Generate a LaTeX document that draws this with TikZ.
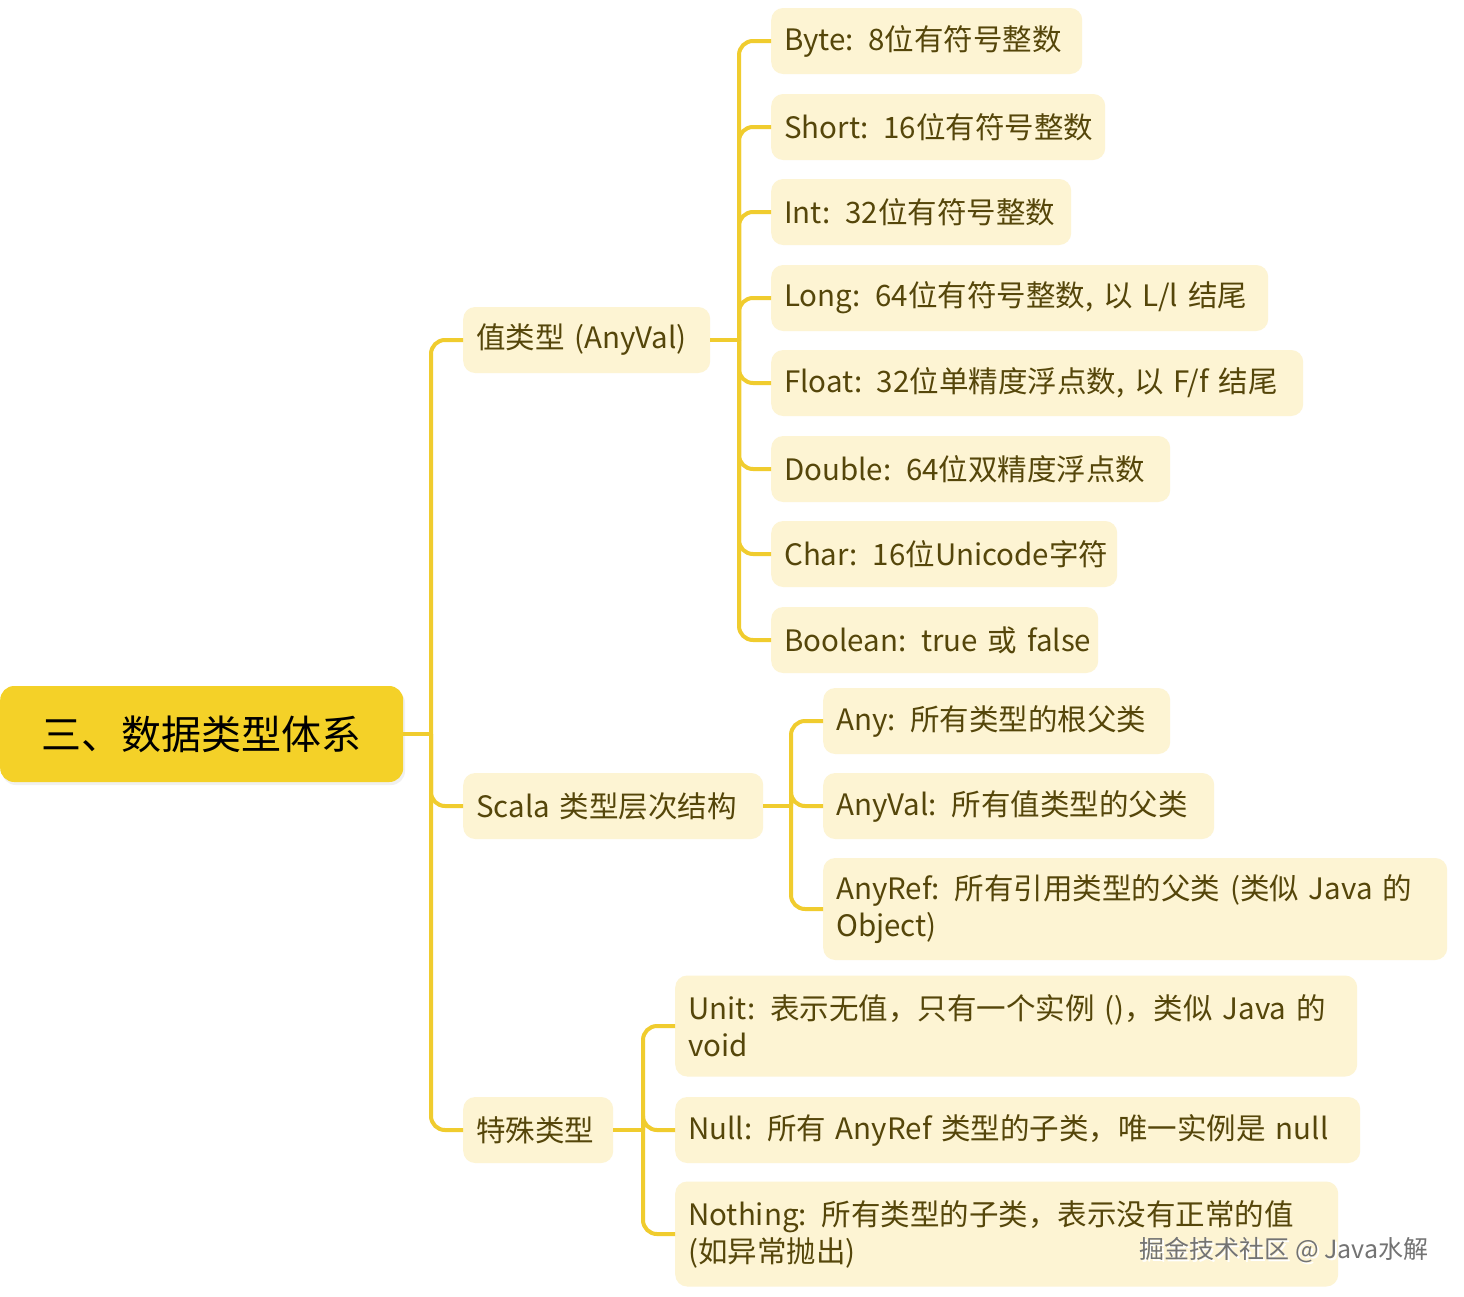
\documentclass[tikz,border=0pt]{standalone}
\usepackage{fontspec}
\setmainfont{Noto Sans CJK SC}
\newfontfamily\cjk{Noto Sans CJK SC}
\definecolor{rootfill}{HTML}{F4D128}
\definecolor{cream}{HTML}{FDF4D3}
\definecolor{olive}{HTML}{55460A}
\definecolor{conncol}{HTML}{F0CC2E}
\newcommand{\oneline}[1]{\mbox{#1}}
\tikzset{
  box/.style={rounded corners=12pt, fill=cream, text=olive, font=\cjk\fontsize{29.5}{37}\selectfont,
    inner xsep=13pt, inner ysep=0pt, minimum height=66pt, anchor=west, align=left},
  rootbox/.style={rounded corners=14pt, fill=rootfill, text=black, font=\cjk\fontsize{40}{48}\selectfont,
    inner sep=0pt, minimum width=403pt, minimum height=96pt, anchor=west, align=center},
  conn/.style={draw=conncol, line width=4pt},
  elbow/.style={conn, rounded corners=14pt},
}
\begin{document}
\begin{tikzpicture}[x=1pt,y=-1pt]
\useasboundingbox (0,0) rectangle (1464,1296);
\fill[white] (0,0) rectangle (1464,1296);

% root
\fill[black!6, rounded corners=14pt] (2,689) rectangle (405,785);
\node[rootbox] (root) at (0,734) {三、数据类型体系};

% level 1
\node[box, text width=221pt] (v) at (463,340) {\oneline{值类型 (AnyVal)}};
\node[box, text width=274pt] (s) at (463,806) {\oneline{Scala 类型层次结构}};
\node[box, text width=124pt] (p) at (463,1130) {\oneline{特殊类型}};

% AnyVal children
\node[box, text width=285pt] (v1) at (771,41) {\oneline{Byte: 8位有符号整数}};
\node[box, text width=308pt] (v2) at (771,127) {\oneline{Short: 16位有符号整数}};
\node[box, text width=274pt] (v3) at (771,212) {\oneline{Int: 32位有符号整数}};
\node[box, text width=471pt] (v4) at (771,298) {\oneline{Long: 64位有符号整数, 以 L/l 结尾}};
\node[box, text width=506pt] (v5) at (771,383) {\oneline{Float: 32位单精度浮点数, 以 F/f 结尾}};
\node[box, text width=373pt] (v6) at (771,469) {\oneline{Double: 64位双精度浮点数}};
\node[box, text width=320pt] (v7) at (771,554) {\oneline{Char: 16位Unicode字符}};
\node[box, text width=301pt] (v8) at (771,640) {\oneline{Boolean: true 或 false}};

% Scala children
\node[box, text width=321pt] (s1) at (823,721) {\oneline{Any: 所有类型的根父类}};
\node[box, text width=365pt] (s2) at (823,806) {\oneline{AnyVal: 所有值类型的父类}};
\node[box, text width=598pt, minimum height=102pt] (s3) at (823,909) {\oneline{AnyRef: 所有引用类型的父类 (类似 Java 的}\\\oneline{Object)}};

% special children
\node[box, text width=656pt, minimum height=101pt] (p1) at (675,1026) {\oneline{Unit: 表示无值，只有一个实例 ()，类似 Java 的}\\\oneline{void}};
\node[box, text width=659pt] (p2) at (675,1130) {\oneline{Null: 所有 AnyRef 类型的子类，唯一实例是 null}};
\node[box, text width=637pt, minimum height=105pt] (p3) at (675,1234) {\oneline{Nothing: 所有类型的子类，表示没有正常的值}\\\oneline{(如异常抛出)}};

% connectors
\coordinate (t0) at (431,734);
\draw[conn] (root.east) -- (t0);
\foreach \c in {v,s,p} \draw[elbow] (t0) |- (\c.west);

\coordinate (t1) at (739,340);
\draw[conn] (v.east) -- (t1);
\foreach \c in {v1,v2,v3,v4,v5,v6,v7,v8} \draw[elbow] (t1) |- (\c.west);

\coordinate (t2) at (791,806);
\draw[conn] (s.east) -- (t2);
\foreach \c in {s1,s2,s3} \draw[elbow] (t2) |- (\c.west);

\coordinate (t3) at (643,1130);
\draw[conn] (p.east) -- (t3);
\foreach \c in {p1,p2,p3} \draw[elbow] (t3) |- (\c.west);

% watermark
\node[text=white, font=\cjk\fontsize{25}{29}\selectfont, anchor=east] (wm0) at (1434,1252) {掘金技术社区 @ Java水解};
\node[text=black!55, font=\cjk\fontsize{25}{29}\selectfont, anchor=east] (wm) at (1432,1250) {掘金技术社区 @ Java水解};
\end{tikzpicture}
\end{document}
